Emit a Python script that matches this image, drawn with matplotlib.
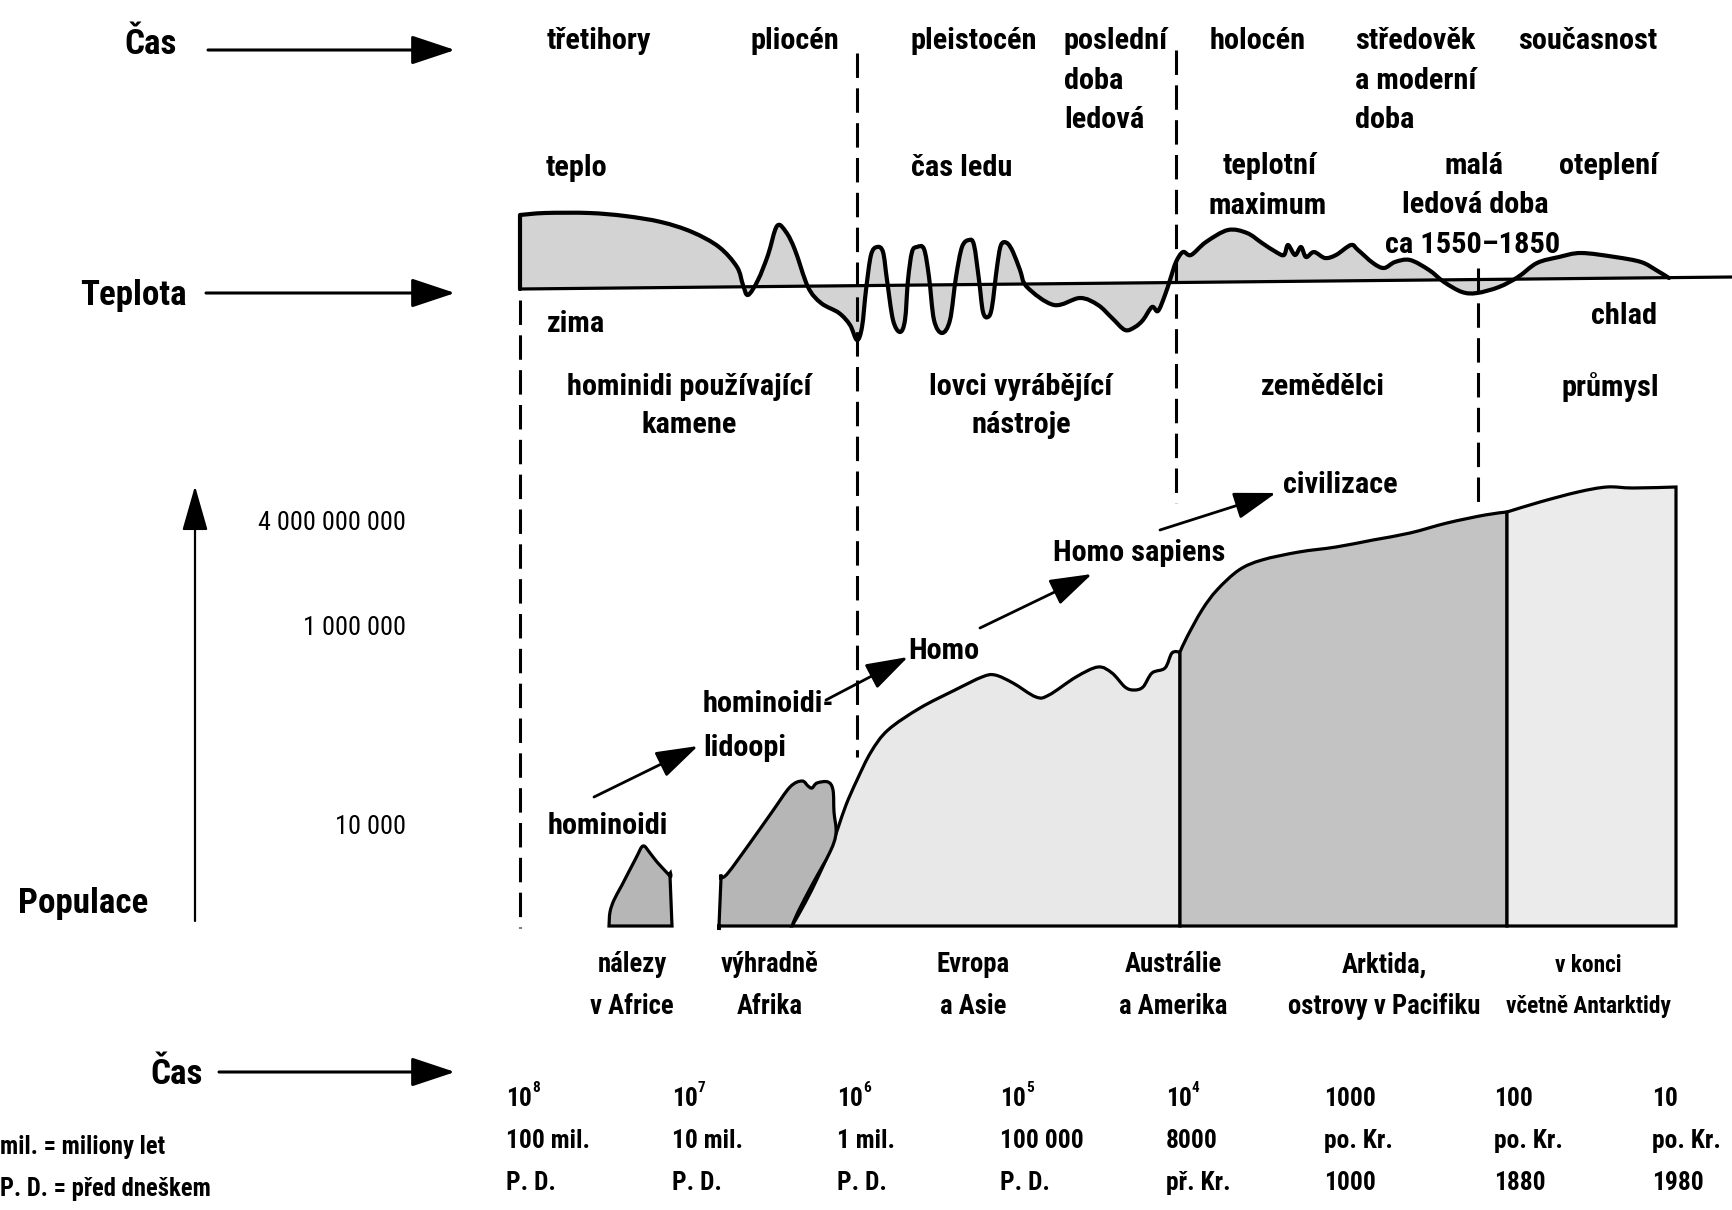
import os
import glob
import numpy as np
import matplotlib
matplotlib.use("Agg")
import matplotlib.pyplot as plt
import matplotlib.font_manager as fm
from matplotlib.path import Path
from matplotlib.patches import PathPatch

# ---------------- data (diagram units: x to the right, y downwards) -------------
# temperature curve (smaller y = warmer); baseline = zero line
temp_x = [520, 545, 589, 625, 661, 692, 719, 737, 743, 748, 758, 768, 777, 786, 795, 808,
          821, 839, 850, 857, 862, 866, 871, 877, 883, 887, 893, 900, 905, 908, 912, 917,
          924, 929, 934, 942, 950, 956, 962, 969, 974, 979, 983, 988, 992, 997, 1001, 1007,
          1013, 1020, 1027, 1054, 1080, 1098, 1112, 1125, 1135, 1143, 1152, 1158, 1165,
          1170, 1176, 1183, 1191, 1206, 1228, 1247, 1262, 1276, 1284, 1288, 1295, 1301,
          1306, 1314, 1325, 1336, 1351, 1358, 1373, 1384, 1395, 1410, 1429, 1444, 1462,
          1477, 1499, 1518, 1537, 1559, 1581, 1615, 1641, 1656, 1669]
temp_y = [215, 213, 213, 216, 222, 232, 247, 267, 285, 295, 280, 255, 226, 232, 250, 287,
          303, 313, 325, 340, 327, 290, 255, 247, 252, 280, 320, 332, 320, 280, 252, 247,
          249, 277, 320, 333, 320, 277, 247, 240, 245, 280, 312, 317, 307, 267, 245, 243,
          252, 270, 287, 305, 298, 305, 318, 330, 327, 320, 307, 311, 295,
          280, 262, 252, 255, 242, 230, 233, 243, 252, 255, 245, 255, 247,
          257, 252, 258, 255, 245, 250, 263, 268, 262, 260, 270, 282, 292,
          293, 287, 277, 263, 257, 253, 257, 262, 270, 278]
base_x = [520, 1733]
base_y = [289, 277]

# population outlines
hominoid_x = [609, 610, 614, 622, 636, 643, 650, 657, 670, 670, 672]
hominoid_y = [926, 912, 900, 885, 858, 846, 853, 862, 876, 876, 926]
ape_x = [719, 719, 721, 721, 728, 750, 772, 790, 802, 808, 812, 817, 828, 833, 834, 836,
         830, 812, 798, 792]
ape_y = [926, 926, 878, 878, 873, 843, 812, 787, 781, 786, 788, 783, 782, 790, 812, 833,
         852, 885, 912, 926]
homo_x = [792, 805, 818, 830, 838, 846, 857, 871, 888, 920, 955, 982, 995, 1013, 1036,
          1049, 1076, 1098, 1112, 1125, 1134, 1143, 1152, 1165, 1172, 1180]
homo_y = [926, 903, 877, 850, 828, 805, 780, 752, 730, 708, 690, 677, 675, 683, 697,
          695, 677, 667, 673, 687, 690, 687, 673, 668, 653, 652]
agri_x = [1180, 1187, 1202, 1217, 1239, 1262, 1299, 1336, 1373, 1410, 1447, 1485, 1507]
agri_y = [652, 637, 610, 590, 570, 560, 552, 547, 540, 533, 523, 515, 512]
ind_x = [1507, 1540, 1578, 1607, 1633, 1676]
ind_y = [512, 502, 492, 487, 488, 487]
pop_base_y = 926

# era divisions (dashed)
div_x = [520, 857, 1176, 1478]
div_top = [300, 53, 50, 268]
div_bot = [928, 757, 503, 503]

# texts
top_labels = ['třetihory', 'pliocén', 'pleistocén', 'holocén', 'současnost']
top_x = [599, 795, 974, 1258, 1588]
time_ticks_base = ['10', '10', '10', '10', '10', '1000', '100', '10']
time_ticks_exp = ['8', '7', '6', '5', '4', '', '', '']
time_ticks_mid = ['100 mil.', '10 mil.', '1 mil.', '100 000', '8000', 'po. Kr.', 'po. Kr.', 'po. Kr.']
time_ticks_bot = ['P. D.', 'P. D.', 'P. D.', 'P. D.', 'př. Kr.', '1000', '1880', '1980']
tick_x = [506, 672, 837, 1000, 1166, 1324, 1494, 1652]
pop_ticks = ['4 000 000 000', '1 000 000', '10 000']
pop_tick_y = [523, 628, 827]
region_l1 = ['nálezy', 'výhradně', 'Evropa', 'Austrálie', 'Arktida,', 'v konci']
region_l2 = ['v Africe', 'Afrika', 'a Asie', 'a Amerika', 'ostrovy v Pacifiku', 'včetně Antarktidy']
region_x = [632, 770, 973, 1173, 1384, 1588]
stage_l1 = ['hominidi používající', 'lovci vyrábějící', 'zemědělci', 'průmysl']
stage_l2 = ['kamene', 'nástroje', '', '']
stage_x = [689, 1021, 1323, 1610]
evo_arrows_start = [(594, 797), (826, 700), (980, 628), (1160, 530)]
evo_arrows_end = [(698, 746), (908, 657), (1092, 574), (1276, 493)]


# ---------------- fonts -----------------------------------------------------------
def find_font(names):
    files = [f.fname for f in fm.fontManager.ttflist]
    for d in ['/usr/share/fonts', '/usr/local/share/fonts', os.path.expanduser('~/.fonts')]:
        files += glob.glob(os.path.join(d, '**', '*.ttf'), recursive=True)
        files += glob.glob(os.path.join(d, '**', '*.otf'), recursive=True)
    base = {}
    for f in files:
        base.setdefault(os.path.splitext(os.path.basename(f))[0].lower(), f)
    for n in names:
        if n.lower() in base:
            return fm.FontProperties(fname=base[n.lower()])
    return None


BOLD = find_font(['LiberationSansNarrow-Bold', 'RobotoCondensed-Bold', 'NotoSans-CondensedBold',
                  'DejaVuSansCondensed-Bold', 'OpenSans-CondensedBold', 'OpenSans_Condensed-Bold',
                  'NotoSans-SemiCondensedBold', 'LiberationSans-Bold', 'Roboto-Bold'])
if BOLD is None:
    BOLD = fm.FontProperties(family='DejaVu Sans', weight='bold')
REG = find_font(['LiberationSansNarrow-Regular', 'RobotoCondensed-Regular', 'NotoSans-Condensed',
                 'DejaVuSansCondensed', 'OpenSans-CondensedRegular', 'NotoSans-SemiCondensed',
                 'LiberationSans-Regular', 'Roboto-Regular'])
if REG is None:
    REG = fm.FontProperties(family='DejaVu Sans')

# ---------------- figure ----------------------------------------------------------
fig = plt.figure(figsize=(17.33, 12.10), dpi=100)
ax = fig.add_axes([0, 0, 1, 1])
ax.set_xlim(0, 1733)
ax.set_ylim(1210, 0)
ax.axis('off')
renderer = fig.canvas.get_renderer()


def fit(text, target, fp):
    t = ax.text(0, 0, text, fontproperties=fp, fontsize=20)
    w = t.get_window_extent(renderer).width
    t.remove()
    return 20.0 * target / w


S_TOP = fit('třetihory', 104, BOLD)
S_TICK = fit('100 000', 83, BOLD)
S_YLAB = fit('4 000 000 000', 148, REG)
S_BIG = fit('Populace', 130, BOLD)
S_NOTE = fit('mil. = miliony let', 165, BOLD)
S_REG = fit('Austrálie', 97, BOLD)
S_REG2 = fit('včetně Antarktidy', 165, BOLD)


def T(x, y, s, size, ha='center', fp=BOLD, **kw):
    return ax.text(x, y, s, fontproperties=fp, fontsize=size, ha=ha, va='center',
                   color='black', **kw)


def smooth_segments(xs, ys):
    P = np.column_stack([xs, ys]).astype(float)
    n = len(P)
    verts, codes = [], []
    for i in range(n - 1):
        p0 = P[max(i - 1, 0)]
        p1 = P[i]
        p2 = P[i + 1]
        p3 = P[min(i + 2, n - 1)]
        c1 = p1 + (p2 - p0) / 6.0
        c2 = p2 - (p3 - p1) / 6.0
        verts += [c1, c2, p2]
        codes += [Path.CURVE4] * 3
    return verts, codes


def shape_path(xs, ys, pre=None, post=None, close=True):
    verts, codes = [], []
    if pre is not None:
        verts += [pre, (xs[0], ys[0])]
        codes += [Path.MOVETO, Path.LINETO]
    else:
        verts += [(xs[0], ys[0])]
        codes += [Path.MOVETO]
    v, c = smooth_segments(xs, ys)
    verts += v
    codes += c
    if post is not None:
        for p in post:
            verts.append(p)
            codes.append(Path.LINETO)
    if close:
        verts.append(verts[0])
        codes.append(Path.CLOSEPOLY)
    return Path(verts, codes)


LW = 2.3

# ---------------- temperature -----------------------------------------------------
b_left = np.interp(temp_x[0], base_x, base_y)
b_right = np.interp(temp_x[-1], base_x, base_y)
area = shape_path(temp_x, temp_y, pre=(temp_x[0], b_left), post=[(temp_x[-1], b_right)])
ax.add_patch(PathPatch(area, facecolor='#d3d3d3', edgecolor='none', zorder=1))
ax.plot(base_x, base_y, color='black', lw=LW, zorder=3)
line = shape_path(temp_x, temp_y, pre=(temp_x[0], b_left), close=False)
ax.add_patch(PathPatch(line, facecolor='none', edgecolor='black', lw=LW + 0.7, zorder=4,
                       joinstyle='round', capstyle='round'))

# ---------------- divisions -------------------------------------------------------
for x, t, b in zip(div_x, div_top, div_bot):
    ax.plot([x, x], [t, b], color='black', lw=2.2, dashes=(8, 3.4), zorder=5)

# ---------------- population ------------------------------------------------------
ax.add_patch(PathPatch(shape_path(homo_x, homo_y, post=[(homo_x[-1], pop_base_y)]),
                       facecolor='#e8e8e8', edgecolor='black', lw=LW, zorder=2))
ax.add_patch(PathPatch(shape_path(agri_x, agri_y, pre=(agri_x[0], pop_base_y),
                                  post=[(agri_x[-1], pop_base_y)]),
                       facecolor='#c3c3c3', edgecolor='black', lw=LW, zorder=2))
ax.add_patch(PathPatch(shape_path(ind_x, ind_y, pre=(ind_x[0], pop_base_y),
                                  post=[(ind_x[-1], pop_base_y)]),
                       facecolor='#ebebeb', edgecolor='black', lw=LW, zorder=2))
ax.add_patch(PathPatch(shape_path(ape_x, ape_y), facecolor='#b6b6b6', edgecolor='black',
                       lw=LW, zorder=3))
ax.add_patch(PathPatch(shape_path(hominoid_x, hominoid_y), facecolor='#b6b6b6',
                       edgecolor='black', lw=LW, zorder=3))

for s, e in zip(evo_arrows_start, evo_arrows_end):
    ax.annotate('', xy=e, xytext=s,
                arrowprops=dict(arrowstyle='-|>,head_length=1.3,head_width=0.42',
                                mutation_scale=20, lw=2.0, color='black',
                                shrinkA=0, shrinkB=0), zorder=6)

# ---------------- left side -------------------------------------------------------
for y, x0 in [(50, 208), (293, 206), (1072, 219)]:
    ax.annotate('', xy=(455, y), xytext=(x0, y),
                arrowprops=dict(arrowstyle='-|>,head_length=1.35,head_width=0.45',
                                mutation_scale=20, lw=2.2, color='black',
                                shrinkA=0, shrinkB=0))
ax.annotate('', xy=(195, 486), xytext=(195, 921),
            arrowprops=dict(arrowstyle='-|>,head_length=1.4,head_width=0.4',
                            mutation_scale=20, lw=1.6, color='black',
                            shrinkA=0, shrinkB=0))

T(151, 44, 'Čas', S_BIG)
T(133, 295, 'Teplota', S_BIG)
T(83, 904, 'Populace', S_BIG)
T(177, 1074, 'Čas', S_BIG)
T(0, 1147, 'mil. = miliony let', S_NOTE, ha='left')
T(0, 1189, 'P. D. = před dneškem', S_NOTE, ha='left')
for lab, y in zip(pop_ticks, pop_tick_y):
    T(406, y, lab, S_YLAB, ha='right', fp=REG)

# ---------------- top texts -------------------------------------------------------
for lab, x in zip(top_labels, top_x):
    T(x, 41, lab, S_TOP)
for s, y in zip(['poslední', 'doba', 'ledová'], [41, 81, 120]):
    T(1064, y, s, S_TOP, ha='left')
for s, y in zip(['středověk', 'a moderní', 'doba'], [41, 81, 120]):
    T(1355, y, s, S_TOP, ha='left')

T(546, 168, 'teplo', S_TOP, ha='left')
T(547, 324, 'zima', S_TOP, ha='left')
T(962, 168, 'čas ledu', S_TOP)
T(1270, 166, 'teplotní', S_TOP)
T(1268, 206, 'maximum', S_TOP)
T(1474, 166, 'malá', S_TOP)
T(1475, 205, 'ledová doba', S_TOP)
T(1473, 245, 'ca 1550–1850', S_TOP)
T(1609, 166, 'oteplení', S_TOP)
T(1624, 316, 'chlad', S_TOP)

for a, b, x in zip(stage_l1, stage_l2, stage_x):
    T(x, 387, a, S_TOP)
    if b:
        T(x, 425, b, S_TOP)

# ---------------- population texts ------------------------------------------------
T(608, 826, 'hominoidi', S_TOP)
T(703, 704, 'hominoidi-', S_TOP, ha='left')
T(703, 748, 'lidoopi', S_TOP, ha='left')
T(908, 651, 'Homo', S_TOP, ha='left')
T(1053, 553, 'Homo sapiens', S_TOP, ha='left')
T(1283, 485, 'civilizace', S_TOP, ha='left')

for a, b, x in zip(region_l1, region_l2, region_x):
    sz = S_REG2 if b == region_l2[-1] else S_REG
    T(x, 965, a, sz)
    T(x, 1006, b, sz)

# ---------------- time ticks ------------------------------------------------------
for b, e, m, t, x in zip(time_ticks_base, time_ticks_exp, time_ticks_mid, time_ticks_bot, tick_x):
    tb = T(x, 1099, b, S_TICK, ha='left')
    if e:
        ax.annotate(e, xy=(1.0, 0.95), xycoords=tb, ha='left', va='center',
                    fontproperties=BOLD, fontsize=S_TICK * 0.6, color='black')
    T(x, 1141, m, S_TICK, ha='left')
    T(x, 1183, t, S_TICK, ha='left')

fig.savefig('out.png', dpi=100, facecolor='white')
